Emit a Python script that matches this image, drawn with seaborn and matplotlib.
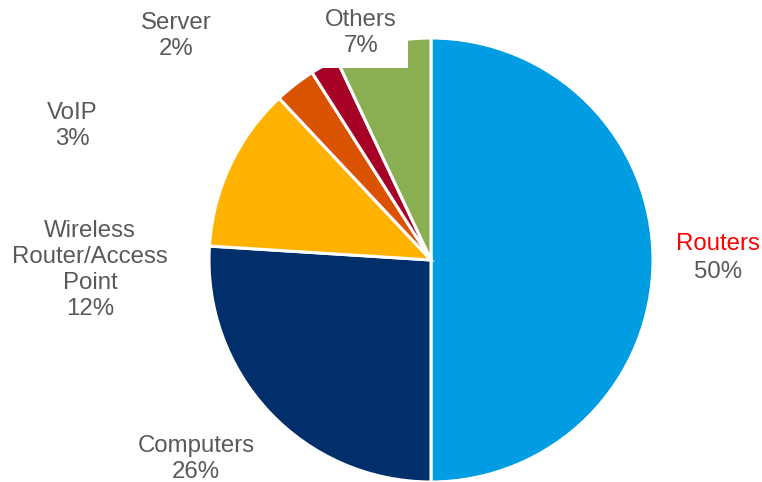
import matplotlib
matplotlib.use("Agg")
import matplotlib.pyplot as plt
import seaborn as sns

sns.set_theme(style="white")
plt.rcParams["font.family"] = ["Liberation Sans", "DejaVu Sans"]

categories = ["Routers", "Computers", "Wireless\nRouter/Access\nPoint", "VoIP", "Server", "Others"]
shares = [50, 26, 12, 3, 2, 7]
colors = ["#009DE3", "#002F6C", "#FFB300", "#D95300", "#A60027", "#8AAE52"]

W, H = 762, 482
fig = plt.figure(figsize=(W / 100, H / 100), dpi=100)
ax = fig.add_axes([0, 0, 1, 1])

cx, cy, r = 431, H - 260, 222
ax.pie(shares, colors=sns.color_palette(colors), startangle=90, counterclock=False,
       center=(cx, cy), radius=r,
       wedgeprops=dict(edgecolor="white", linewidth=2.2))
ax.set_xlim(0, W)
ax.set_ylim(0, H)
ax.set_aspect("equal")
ax.axis("off")

gray = "#595959"
fs = 17.3

# label anchors in pixel space (x, y from top)
label_pos = {
    "Computers": (196, 459),
    "Wireless\nRouter/Access\nPoint": (90, 270),
    "VoIP": (72, 126),
    "Server": (176, 36),
    "Others": (361, 33),
}
for name, val in zip(categories, shares):
    if name == "Routers":
        ax.text(718, H - 244, name, color="#FF0000", fontsize=fs, ha="center", va="center")
        ax.text(718, H - 272, f"{val}%", color=gray, fontsize=fs, ha="center", va="center")
        continue
    x, y = label_pos[name]
    kw = {}
    if name == "Others":
        kw["bbox"] = dict(boxstyle="square,pad=0.45", facecolor="white", edgecolor="none")
    ax.text(x, H - y, f"{name}\n{val}%", color=gray, fontsize=fs, ha="center", va="center",
            linespacing=1.25, zorder=5, **kw)

fig.savefig("out.png", dpi=100)
